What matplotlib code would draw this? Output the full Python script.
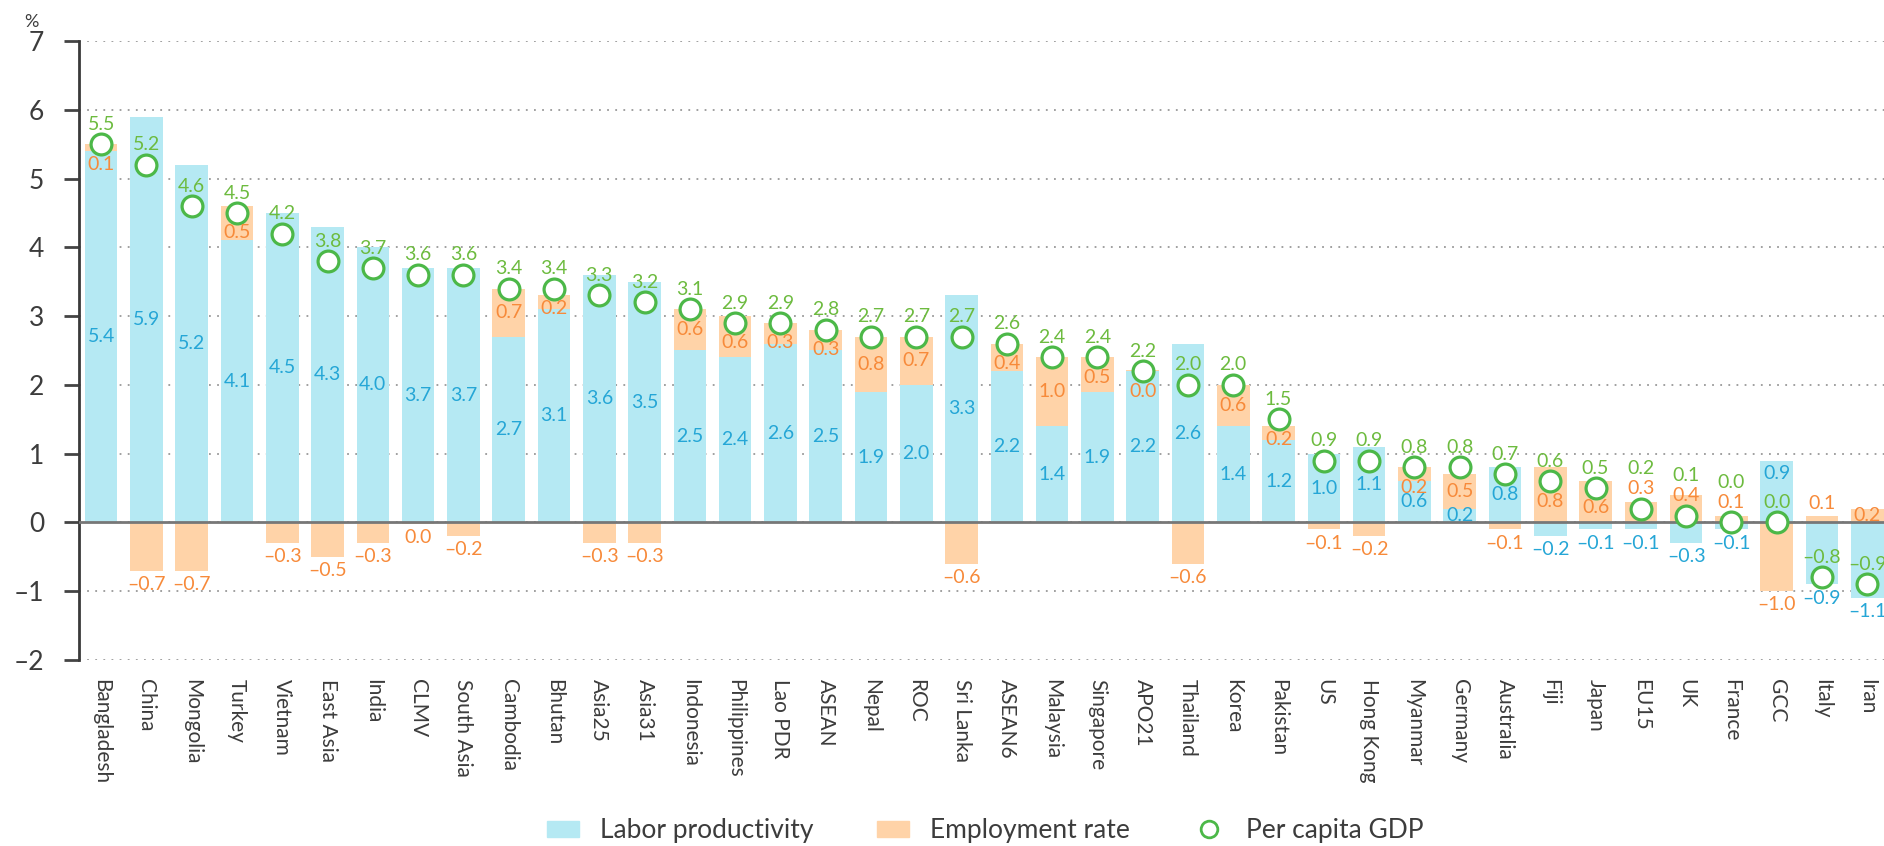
import numpy as np
import matplotlib.pyplot as plt
from matplotlib.patches import Patch
from matplotlib.lines import Line2D

plt.rcParams['font.family'] = ['Lato', 'DejaVu Sans']

countries = ['Bangladesh', 'China', 'Mongolia', 'Turkey', 'Vietnam', 'East Asia', 'India', 'CLMV',
             'South Asia', 'Cambodia', 'Bhutan', 'Asia25', 'Asia31', 'Indonesia', 'Philippines',
             'Lao PDR', 'ASEAN', 'Nepal', 'ROC', 'Sri Lanka', 'ASEAN6', 'Malaysia', 'Singapore',
             'APO21', 'Thailand', 'Korea', 'Pakistan', 'US', 'Hong Kong', 'Myanmar', 'Germany',
             'Australia', 'Fiji', 'Japan', 'EU15', 'UK', 'France', 'GCC', 'Italy', 'Iran']
labor_prod = [5.4, 5.9, 5.2, 4.1, 4.5, 4.3, 4.0, 3.7, 3.7, 2.7, 3.1, 3.6, 3.5, 2.5, 2.4, 2.6, 2.5,
              1.9, 2.0, 3.3, 2.2, 1.4, 1.9, 2.2, 2.6, 1.4, 1.2, 1.0, 1.1, 0.6, 0.2, 0.8, -0.2, -0.1,
              -0.1, -0.3, -0.1, 0.9, -0.9, -1.1]
# CLMV is a tiny negative (shown as 0.0 below the axis), APO21 a tiny positive
employment = [0.1, -0.7, -0.7, 0.5, -0.3, -0.5, -0.3, -0.02, -0.2, 0.7, 0.2, -0.3, -0.3, 0.6, 0.6,
              0.3, 0.3, 0.8, 0.7, -0.6, 0.4, 1.0, 0.5, 0.02, -0.6, 0.6, 0.2, -0.1, -0.2, 0.2, 0.5,
              -0.1, 0.8, 0.6, 0.3, 0.4, 0.1, -1.0, 0.1, 0.2]
gdp_pc = [5.5, 5.2, 4.6, 4.5, 4.2, 3.8, 3.7, 3.6, 3.6, 3.4, 3.4, 3.3, 3.2, 3.1, 2.9, 2.9, 2.8, 2.7,
          2.7, 2.7, 2.6, 2.4, 2.4, 2.2, 2.0, 2.0, 1.5, 0.9, 0.9, 0.8, 0.8, 0.7, 0.6, 0.5, 0.2, 0.1,
          0.0, 0.0, -0.8, -0.9]

c_lp = '#b5e9f3'
c_er = '#ffd3a8'
t_lp = '#25a6d6'
t_er = '#f78a3a'
t_gdp = '#6dbb3f'
c_circ = '#4cb848'


def fmt(v):
    r = round(v, 1)
    s = '{:.1f}'.format(abs(r))
    return '\u2013' + s if r < 0 else s


fig = plt.figure(figsize=(18.84, 8.46), dpi=100)
ax = fig.add_axes([0.0419, 0.2199, 0.9581, 0.7316])

x = np.arange(len(countries))
lp = np.array(labor_prod)
er = np.array(employment)
gdp = np.array(gdp_pc)
w = 0.72

# positive parts stack up from 0, negative parts stack down from 0
er_bottom = np.where(er >= 0, np.maximum(lp, 0), np.minimum(lp, 0))
ax.bar(x, lp, w, color=c_lp, zorder=2)
ax.bar(x, er, w, bottom=er_bottom, color=c_er, zorder=2)
ax.axhline(0, color='#777777', lw=2, zorder=3)
ax.plot(x, gdp, 'o', ms=15, mfc='white', mec=c_circ, mew=2.3, zorder=5)

fs = 14
for i in x:
    g = gdp[i]
    g_lab = g + 0.29
    # employment label
    if er[i] >= 0:
        lo = er_bottom[i]
        y_er = lo + er[i] / 2
        if abs(y_er - g) < 0.3:
            if g - 0.28 > 0.15:
                y_er = g - 0.29
            else:
                y_er = g + 0.29
                g_lab = g + 0.58
        elif er[i] < 0.15:
            y_er = lo + er[i] + 0.18
    else:
        y_er = er_bottom[i] + er[i] - 0.2
    # productivity label
    if lp[i] >= 0:
        y_lp = lp[i] / 2
        if abs(y_lp - g) < 0.25 or abs(y_lp - g_lab) < 0.25:
            y_lp = g_lab + 0.42
    else:
        bot = lp[i] + (er[i] if er[i] < 0 else 0)
        y_lp = bot - 0.2
    ax.text(i, y_lp, fmt(lp[i]), color=t_lp, fontsize=fs, ha='center', va='center', zorder=6)
    ax.text(i, y_er, fmt(er[i]), color=t_er, fontsize=fs, ha='center', va='center', zorder=6)
    ax.text(i, g_lab, fmt(g), color=t_gdp, fontsize=fs, ha='center', va='center', zorder=6)

ax.set_xlim(-0.49, 39.37)
ax.set_ylim(-2, 7)
ax.set_yticks(range(-2, 8))
ax.set_yticklabels(['\u2013' + str(-v) if v < 0 else str(v) for v in range(-2, 8)])
ax.set_xticks(x)
ax.set_xticklabels(countries, rotation=-90, ha='center', va='top', fontsize=15, color='#3c3c3c')
ax.tick_params(axis='x', length=0, pad=14)
ax.tick_params(axis='y', length=11, width=2, color='#444444', pad=14, labelsize=19, labelcolor='#3c3c3c')
ax.yaxis.grid(True, linestyle=(0, (1, 3.5)), color='#999999', lw=1.3, zorder=0)
ax.set_axisbelow(True)
for s in ['top', 'right', 'bottom']:
    ax.spines[s].set_visible(False)
ax.spines['left'].set_color('#3a3a3a')
ax.spines['left'].set_linewidth(2)

fig.text(31 / 1884, 1 - 22 / 846, '%', fontsize=13, color='#3c3c3c', ha='center', va='center')

handles = [Patch(color=c_lp), Patch(color=c_er),
           Line2D([], [], marker='o', ls='none', ms=12, mfc='white', mec=c_circ, mew=2)]
fig.legend(handles, ['Labor productivity', 'Employment rate', 'Per capita GDP'],
           loc='center', bbox_to_anchor=(0.523, 0.018), ncol=3, frameon=False, fontsize=19,
           handlelength=1.2, handleheight=0.6, columnspacing=2.4, handletextpad=0.8,
           labelcolor='#3c3c3c')

fig.savefig('out.png', dpi=100)
